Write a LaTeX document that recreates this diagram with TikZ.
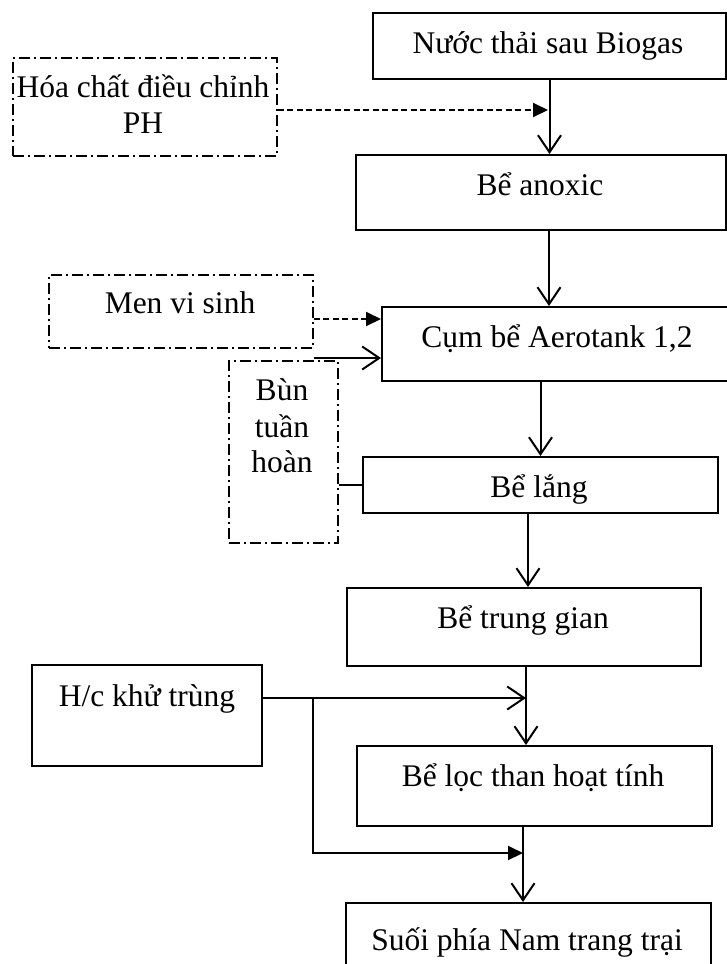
\documentclass[tikz,border=0pt]{standalone}
\usepackage{fontspec}
\setmainfont{Liberation Serif}
\usetikzlibrary{arrows.meta,calc}
\begin{document}
\begin{tikzpicture}[x=1pt,y=-1pt,
  lw/.style={line width=2pt},
  box/.style={draw,lw,rectangle,inner sep=0pt,anchor=north west},
  ddbox/.style={draw,line width=1.8pt,dash pattern=on 11pt off 4pt on 2pt off 4pt,rectangle,inner sep=0pt,anchor=north west},
  lbl/.style={anchor=base,inner sep=0pt,font=\fontsize{31.5pt}{36pt}\selectfont},
  flow/.style={lw,-{Straight Barb[length=17pt,width=23pt]}},
  feed/.style={lw,dash pattern=on 6pt off 3.5pt,-{Triangle[length=15pt,width=14pt]}},
  feedsolid/.style={lw,-{Triangle[length=15pt,width=14pt]}},
  plain/.style={lw}
]
\useasboundingbox (0,0) rectangle (726,964);
\fill[white] (0,0) rectangle (726,964);

% boxes
\node[box,minimum width=353pt,minimum height=66pt] (A) at (372,12) {};
\node[ddbox,minimum width=264pt,minimum height=98pt] (Hc) at (12,57) {};
\node[box,minimum width=370pt,minimum height=75pt] (B) at (355,154) {};
\node[ddbox,minimum width=264pt,minimum height=73pt] (Men) at (48,274) {};
\node[box,minimum width=352pt,minimum height=74pt] (Cum) at (381,306) {};
\node[ddbox,minimum width=109pt,minimum height=182pt] (Bun) at (228,360) {};
\node[box,minimum width=355pt,minimum height=56pt] (Lang) at (362,456) {};
\node[box,minimum width=354pt,minimum height=78pt] (Trung) at (346,587) {};
\node[box,minimum width=230pt,minimum height=101pt] (Khu) at (31,664) {};
\node[box,minimum width=355pt,minimum height=80pt] (Loc) at (356,745) {};
\node[box,minimum width=365pt,minimum height=90pt] (Suoi) at (345,902) {};

% texts
\node[lbl] (tA) at (548,53) {Nước thải sau Biogas};
\node[lbl] (tHc1) at (143,97) {Hóa chất điều chỉnh};
\node[lbl] (tHc2) at (143,133) {PH};
\node[lbl] (tB) at (540,195) {Bể anoxic};
\node[lbl] (tMen) at (180,313) {Men vi sinh};
\node[lbl] (tCum) at (557,347) {Cụm bể Aerotank 1,2};
\node[lbl] (tBun1) at (282,400) {Bùn};
\node[lbl] (tBun2) at (282,437) {tuần};
\node[lbl] (tBun3) at (282,472) {hoàn};
\node[lbl] (tLang) at (539,497) {Bể lắng};
\node[lbl] (tTrung) at (523,628) {Bể trung gian};
\node[lbl] (tKhu) at (147,706) {H/c khử trùng};
\node[lbl] (tLoc) at (533,786) {Bể lọc than hoạt tính};
\node[lbl] (tSuoi) at (527,950) {Suối phía Nam trang trại};

% junction coordinates
\coordinate (j1) at (548,110);
\coordinate (m1) at (381,319);
\coordinate (r1) at (381,358);
\coordinate (k1) at (526,698);
\coordinate (br) at (313,698);
\coordinate (k2) at (523,853);

% connectors
\draw[flow] (A.south) -- (A.south |- B.north);
\draw[feed] (Hc.east |- j1) -- (j1);
\draw[flow] ([xshift=8pt]B.south) -- ([xshift=8pt]B.south |- Cum.north);
\draw[feed] (Men.east |- m1) -- (m1);
\draw[flow] (Men.east |- r1) -- (r1);
\draw[flow] (Lang.north |- Cum.south) -- (Lang.north);
\draw[plain] (Bun.east |- Lang.west) -- (Lang.west);
\draw[flow] (528,0 |- Lang.south) -- (528,0 |- Trung.north);
\draw[flow] (526,0 |- Trung.south) -- (526,0 |- Loc.north);
\draw[flow] (Khu.east |- k1) -- (k1);
\draw[feedsolid] (br) |- (k2);
\draw[flow] (523,0 |- Loc.south) -- (523,0 |- Suoi.north);
\end{tikzpicture}
\end{document}
